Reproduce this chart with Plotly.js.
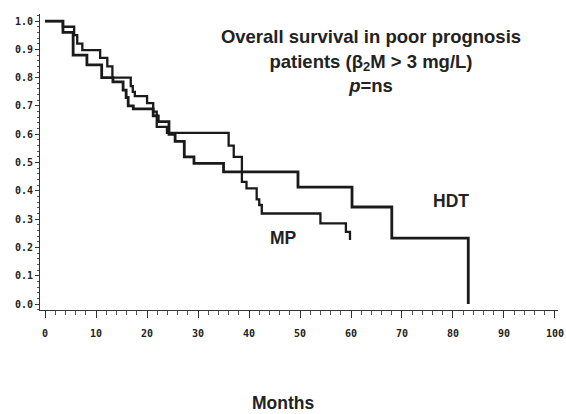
<!DOCTYPE html>
<html>
<head>
<meta charset="utf-8">
<script src="https://cdn.plot.ly/plotly-3.0.1.min.js"></script>
<style>html,body{margin:0;padding:0;background:#fff;}#chart{width:566px;height:414px;}</style>
</head>
<body>
<div id="chart"></div>
<script>
// Kaplan-Meier step data (months, survival proportion)
const hdtMonths   = [0, 3.5, 5.5, 8.2, 11.1, 13.3, 15.3, 15.9, 16.3, 17.3, 21.2, 22.2, 24.3, 25.5, 27.3, 29.2, 35.0, 49.6, 60.2, 68.0, 83.0];
const hdtSurvival = [1.0, 0.96, 0.88, 0.845, 0.80, 0.785, 0.756, 0.73, 0.70, 0.69, 0.665, 0.645, 0.60, 0.575, 0.52, 0.497, 0.467, 0.413, 0.343, 0.233, 0.0];

const mpMonths   = [0, 3.5, 5.7, 6.3, 7.3, 10.8, 12.2, 13.2, 16.8, 17.2, 17.6, 20.0, 21.2, 21.9, 23.9, 36.0, 37.0, 38.6, 39.5, 41.5, 42.0, 42.5, 54.0, 59.0, 59.8];
const mpSurvival = [1.0, 0.98, 0.95, 0.92, 0.897, 0.87, 0.84, 0.80, 0.77, 0.75, 0.735, 0.71, 0.68, 0.626, 0.605, 0.56, 0.52, 0.432, 0.409, 0.37, 0.35, 0.32, 0.285, 0.255, 0.226];

const xTickVals = [0, 10, 20, 30, 40, 50, 60, 70, 80, 90, 100];
const yTickVals = [0.0, 0.1, 0.2, 0.3, 0.4, 0.5, 0.6, 0.7, 0.8, 0.9, 1.0];
const yTickText = ['0.0', '0.1', '0.2', '0.3', '0.4', '0.5', '0.6', '0.7', '0.8', '0.9', '1.0'];

const titleLines = ['Overall survival in poor prognosis', 'patients (β<sub>2</sub>M > 3 mg/L)', '<i>p</i>=ns'];
const xTitle = 'Months';
const seriesLabels = ['HDT', 'MP'];

const tickFont = {family: 'DejaVu Sans Mono', size: 10, color: '#222', weight: 'bold'};
const titleFont = {family: 'Liberation Sans', size: 18.5, color: '#222'};
const textFont = {family: 'Liberation Sans', size: 17.5, color: '#222'};

const traces = [
  {x: hdtMonths, y: hdtSurvival, mode: 'lines', line: {shape: 'hv', color: '#1a1a1a', width: 2.8}, name: seriesLabels[0], hoverinfo: 'skip'},
  {x: mpMonths, y: mpSurvival, mode: 'lines', line: {shape: 'hv', color: '#1a1a1a', width: 2.3}, name: seriesLabels[1], hoverinfo: 'skip'}
];

const layout = {
  width: 566, height: 414,
  margin: {l: 40, r: 8, t: 14, b: 104},
  paper_bgcolor: '#fff', plot_bgcolor: '#fff',
  showlegend: false,
  title: {
    text: '<b>' + titleLines.join('<br>') + '</b>',
    font: titleFont,
    xref: 'paper', x: 0.639, xanchor: 'center',
    yref: 'container', y: 0.895, yanchor: 'top'
  },
  xaxis: {
    range: [-1, 100.6], showgrid: false, zeroline: false,
    showline: true, linecolor: '#333', linewidth: 1,
    tickmode: 'array', tickvals: xTickVals,
    ticks: 'outside', ticklen: 7, tickcolor: '#333', tickwidth: 1,
    ticklabelstandoff: 7,
    minor: {dtick: 2, ticks: 'outside', ticklen: 4, tickcolor: '#555', tickwidth: 1},
    tickfont: tickFont
  },
  yaxis: {
    range: [-0.021, 1.025], showgrid: false, zeroline: false,
    showline: true, linecolor: '#333', linewidth: 1,
    tickmode: 'array', tickvals: yTickVals, ticktext: yTickText,
    ticks: 'outside', ticklen: 4, tickcolor: '#333', tickwidth: 1,
    minor: {dtick: 0.02, ticks: 'outside', ticklen: 2, tickcolor: '#555', tickwidth: 1},
    tickfont: tickFont
  },
  annotations: [
    {text: '<b>' + seriesLabels[0] + '</b>', x: 79.6, y: 0.365, xref: 'x', yref: 'y', showarrow: false, font: textFont, xanchor: 'center', yanchor: 'middle'},
    {text: '<b>' + seriesLabels[1] + '</b>', x: 46.8, y: 0.233, xref: 'x', yref: 'y', showarrow: false, font: textFont, xanchor: 'center', yanchor: 'middle'},
    {text: '<b>' + xTitle + '</b>', x: 0.469, y: -0.314, xref: 'paper', yref: 'paper', showarrow: false, font: textFont, xanchor: 'center', yanchor: 'middle'}
  ]
};

Plotly.newPlot('chart', traces, layout, {displayModeBar: false, staticPlot: true});
</script>
</body>
</html>
